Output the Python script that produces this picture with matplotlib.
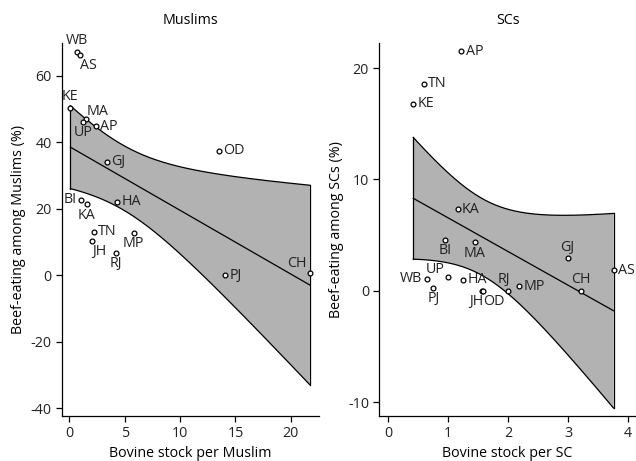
import numpy as np
import matplotlib
matplotlib.use("Agg")
import matplotlib.pyplot as plt

plt.rcParams['font.family'] = ['Open Sans', 'DejaVu Sans']
plt.rcParams['axes.unicode_minus'] = False

# Muslims panel
mus_states = ['WB', 'AS', 'KE', 'MA', 'UP', 'AP', 'GJ', 'OD', 'BI', 'KA',
              'HA', 'TN', 'JH', 'MP', 'RJ', 'PJ', 'CH']
mus_x = [0.66, 0.96, 0.09, 1.53, 1.26, 2.43, 3.42, 13.5, 1.08, 1.56,
         4.35, 2.22, 2.04, 5.8, 4.17, 14.1, 21.7]
mus_y = [67.3, 66.3, 50.4, 47.0, 46.2, 44.8, 34.1, 37.4, 22.7, 21.4,
         22.1, 13.1, 10.3, 12.8, 6.7, 0.0, 0.7]

# SCs panel
sc_states = ['AP', 'TN', 'KE', 'KA', 'BI', 'MA', 'GJ', 'AS', 'WB', 'UP',
             'HA', 'PJ', 'JH', 'OD', 'RJ', 'MP', 'CH']
sc_x = [1.22, 0.595, 0.417, 1.16, 0.945, 1.445, 2.99, 3.755, 0.64, 0.99,
        1.25, 0.75, 1.56, 1.58, 2.0, 2.18, 3.21]
sc_y = [21.5, 18.6, 16.8, 7.3, 4.6, 4.36, 2.9, 1.83, 1.08, 1.23,
        0.99, 0.27, 0.0, 0.0, 0.0, 0.42, 0.0]

# marker label placement (clock positions, like Stata mlabvpos)
mus_lab = {'WB': 12, 'AS': 4, 'KE': 12, 'MA': 1, 'UP': 6, 'AP': 3, 'GJ': 3,
           'OD': 3, 'BI': 9, 'KA': 6, 'HA': 3, 'TN': 3, 'JH': 4, 'MP': 6,
           'RJ': 6, 'PJ': 3, 'CH': 10}
sc_lab = {'AP': 3, 'TN': 3, 'KE': 3, 'KA': 3, 'BI': 6, 'MA': 6, 'GJ': 12,
          'AS': 3, 'WB': 9, 'UP': 11, 'HA': 3, 'PJ': 6, 'JH': 7, 'OD': 5,
          'RJ': 13, 'MP': 3, 'CH': 12}

offsets = {12: (0, 2.5, 'center', 'bottom'), 6: (0, -2.5, 'center', 'top'),
           3: (3, 0, 'left', 'center'), 9: (-3.5, 0, 'right', 'center'),
           1: (0.5, 0, 'left', 'bottom'), 4: (0, -2.5, 'left', 'top'),
           5: (0, -2.5, 'left', 'top'), 7: (1, -2.5, 'right', 'top'),
           10: (-2, 1, 'right', 'bottom'), 11: (-2, 0, 'right', 'bottom'),
           13: (1, 2.5, 'right', 'bottom')}

T975 = 2.131  # t(0.975, df=15)
FS = 10.3


def panel(ax, x, y, names, lab, title, xlabel, ylabel, xlim, ylim, xt, yt):
    x = np.array(x)
    y = np.array(y)
    n = len(x)
    b, a = np.polyfit(x, y, 1)
    resid = y - (a + b * x)
    s = np.sqrt(np.sum(resid ** 2) / (n - 2))
    xs = np.linspace(x.min(), x.max(), 200)
    fit = a + b * xs
    se = s * np.sqrt(1.0 / n + (xs - x.mean()) ** 2 / np.sum((x - x.mean()) ** 2))
    lo = fit - T975 * se
    hi = fit + T975 * se
    ax.fill_between(xs, lo, hi, facecolor='#b2b2b2', edgecolor='none', zorder=1)
    ax.plot(xs, hi, color='black', lw=0.9, zorder=2)
    ax.plot(xs, lo, color='black', lw=0.9, zorder=2)
    ax.plot([xs[0], xs[0]], [lo[0], hi[0]], color='black', lw=0.9, zorder=2)
    ax.plot([xs[-1], xs[-1]], [lo[-1], hi[-1]], color='black', lw=0.9, zorder=2)
    ax.plot(xs, fit, color='black', lw=0.9, zorder=3)
    ax.scatter(x, y, s=12, facecolors='white', edgecolors='black',
               linewidths=0.9, zorder=4, clip_on=False)
    for xi, yi, nm in zip(x, y, names):
        dx, dy, ha, va = offsets[lab[nm]]
        ax.annotate(nm, (xi, yi), xytext=(dx, dy), textcoords='offset points',
                    ha=ha, va=va, fontsize=FS, color='#222222',
                    annotation_clip=False)
    ax.set_xlim(xlim)
    ax.set_ylim(ylim)
    ax.set_xticks(xt)
    ax.set_yticks(yt)
    ax.set_title(title, fontsize=FS, pad=14)
    ax.set_xlabel(xlabel, fontsize=FS, labelpad=3)
    ax.set_ylabel(ylabel, fontsize=FS, labelpad=3)
    ax.spines['top'].set_visible(False)
    ax.spines['right'].set_visible(False)
    for sp in ax.spines.values():
        sp.set_linewidth(0.9)
    ax.tick_params(direction='out', length=4, width=0.9, labelsize=FS,
                   colors='black', labelcolor='#222222')


fig = plt.figure(figsize=(6.36, 4.61), dpi=100)
ax1 = fig.add_axes([0.0975, 0.0976, 0.404, 0.809])
ax2 = fig.add_axes([0.5964, 0.0976, 0.4036, 0.809])

panel(ax1, mus_x, mus_y, mus_states, mus_lab, 'Muslims',
      'Bovine stock per Muslim', 'Beef-eating among Muslims (%)',
      (-0.66, 22.54), (-42.4, 69.9), [0, 5, 10, 15, 20], [-40, -20, 0, 20, 40, 60])
panel(ax2, sc_x, sc_y, sc_states, sc_lab, 'SCs',
      'Bovine stock per SC', 'Beef-eating among SCs (%)',
      (-0.15, 4.13), (-11.24, 22.24), [0, 1, 2, 3, 4], [-10, 0, 10, 20])

fig.savefig('out.png', dpi=100)
